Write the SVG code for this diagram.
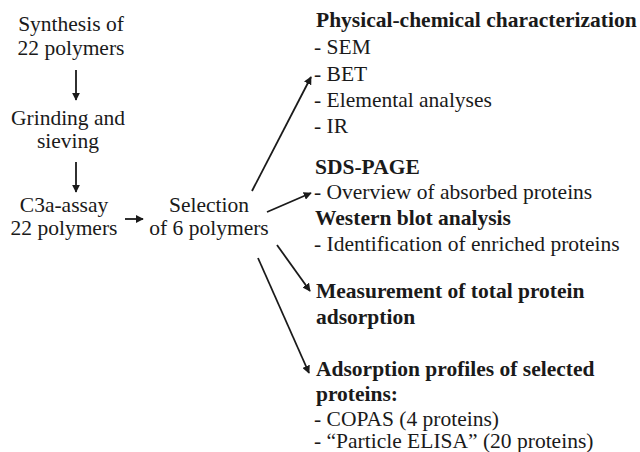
<svg xmlns="http://www.w3.org/2000/svg" width="640" height="452" viewBox="0 0 640 452" font-family="'Liberation Serif', 'Times New Roman', 'DejaVu Serif', serif" font-size="21.5">
<style>
text{fill:#1a1a1a}
.c{text-anchor:middle}
.b{font-weight:bold}
.ln{stroke:#1a1a1a;stroke-width:1.8;fill:none}
</style>
<defs>
<marker id="ah" viewBox="0 0 10 10" refX="9" refY="5" markerWidth="4.5" markerHeight="4.5" orient="auto" markerUnits="strokeWidth">
<path d="M0,0 L10,5 L0,10 z" fill="#1a1a1a"/>
</marker>
</defs>
<rect width="640" height="452" fill="#fff"/>
<g id="synthesis">
<text class="c" x="71" y="31">Synthesis of</text>
<text class="c" x="71" y="55">22 polymers</text>
</g>
<g id="grinding">
<text class="c" x="68" y="125">Grinding and</text>
<text class="c" x="68" y="148">sieving</text>
</g>
<g id="c3a">
<text class="c" x="64" y="212">C3a-assay</text>
<text class="c" x="64" y="235">22 polymers</text>
</g>
<g id="selection">
<text class="c" x="209" y="212">Selection</text>
<text class="c" x="209" y="235">of 6 polymers</text>
</g>
<g id="physchem">
<text class="b" x="316" y="27">Physical-chemical characterization</text>
<text x="314" y="54">- SEM</text>
<text x="314" y="81">- BET</text>
<text x="314" y="107">- Elemental analyses</text>
<text x="314" y="133">- IR</text>
</g>
<g id="sds">
<text class="b" x="315" y="174">SDS-PAGE</text>
<text x="314" y="199">- Overview of absorbed proteins</text>
<text class="b" x="315" y="225">Western blot analysis</text>
<text x="314" y="251">- Identification of enriched proteins</text>
</g>
<g id="measurement">
<text class="b" x="316" y="298">Measurement of total protein</text>
<text class="b" x="316" y="324">adsorption</text>
</g>
<g id="profiles">
<text class="b" x="316" y="376">Adsorption profiles of selected</text>
<text class="b" x="316" y="401">proteins:</text>
<text x="314" y="426">- COPAS (4 proteins)</text>
<text x="314" y="448">- “Particle ELISA” (20 proteins)</text>
</g>
<g id="connectors">
<line class="ln" x1="76" y1="70" x2="76" y2="100" marker-end="url(#ah)"/>
<line class="ln" x1="76" y1="162" x2="76" y2="192" marker-end="url(#ah)"/>
<line class="ln" x1="125" y1="219" x2="143" y2="219" marker-end="url(#ah)"/>
<line class="ln" x1="252" y1="191" x2="311" y2="77" marker-end="url(#ah)"/>
<line class="ln" x1="267" y1="212" x2="311" y2="193" marker-end="url(#ah)"/>
<line class="ln" x1="277" y1="245" x2="310" y2="291" marker-end="url(#ah)"/>
<line class="ln" x1="258" y1="258" x2="309" y2="373" marker-end="url(#ah)"/>
</g>
</svg>
